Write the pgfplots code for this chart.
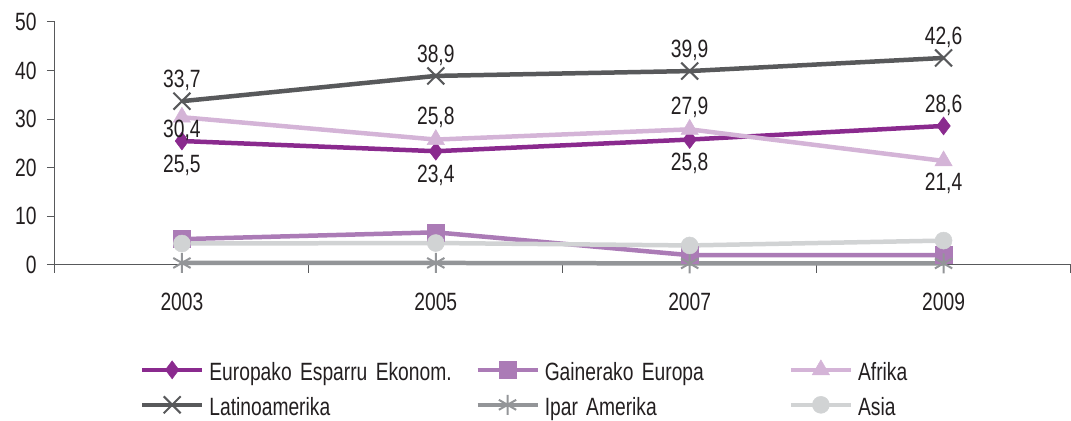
\documentclass[border=0pt]{standalone}
\usepackage{pgfplots}
\usepackage{pgfplotstable}
\pgfplotsset{compat=1.18}
\usepackage{fontspec}
\setmainfont{Liberation Sans}[FakeStretch=0.77]
\definecolor{c1}{HTML}{8A2A8E}
\definecolor{c2}{HTML}{AB7BB6}
\definecolor{c3}{HTML}{D4B4D7}
\definecolor{c4}{HTML}{58595B}
\definecolor{c5}{HTML}{939598}
\definecolor{c6}{HTML}{D1D3D4}
\definecolor{txt}{HTML}{231F20}

\pgfplotstableread{
x y lab off
0 25.5 25,5 -24
1 23.4 23,4 -24
2 25.8 25,8 -24
3 28.6 28,6 21
}\eee
\pgfplotstableread{
x y
0 5.3
1 6.7
2 2.0
3 2.0
}\gai
\pgfplotstableread{
x y lab off
0 30.4 30,4 -13
1 25.8 25,8 22
2 27.9 27,9 22
3 21.4 21,4 -22
}\afr
\pgfplotstableread{
x y lab off
0 33.7 33,7 21
1 38.9 38,9 21
2 39.9 39,9 21
3 42.6 42,6 21
}\lat
\pgfplotstableread{
x y
0 0.4
1 0.4
2 0.3
3 0.3
}\ipa
\pgfplotstableread{
x y
0 4.4
1 4.5
2 4.0
3 5.0
}\asi

\begin{document}
\begin{tikzpicture}[font=\fontsize{25bp}{29bp}\selectfont, text=txt]
\begin{axis}[
  at={(0,0)}, anchor=south west,
  scale only axis, width=1016bp, height=243bp,
  xmin=-0.5, xmax=3.5, ymin=0, ymax=50,
  /pgf/number format/assume math mode=true,
  axis x line*=bottom, axis y line*=left,
  axis line style={c4, line width=1bp},
  every tick/.style={c4, line width=1bp},
  tick align=outside,
  major tick length=8bp, minor tick length=8bp,
  xtick={0,1,2,3}, xticklabels={2003,2005,2007,2009},
  major x tick style={draw=none},
  minor xtick={-0.5,0.5,1.5,2.5,3.5},
  ytick={0,10,20,30,40,50},
  xticklabel style={yshift=-17bp},
  yticklabel style={xshift=-7bp},
  clip=false,
  legend columns=3,
  legend image code/.code={\draw[mark repeat=2,mark phase=2] plot coordinates {(0bp,0bp) (30bp,0bp) (60bp,0bp)};},
  legend style={draw=none, fill=none, inner sep=0pt, outer sep=0pt,
    at={(axis description cs:0,0)}, anchor=north west, xshift=85bp, yshift=-94bp,
    row sep=13bp,
    nodes={inner sep=0pt, outer sep=0pt, text height=22bp, text depth=0bp, anchor=west},
    /tikz/every odd column/.append style={column sep=5bp},
    /tikz/column 2/.style={nodes={text width=266bp}},
    /tikz/column 4/.style={nodes={text width=244bp}},
  },
  nodes near coords style={anchor=center, text=txt, font=\fontsize{25bp}{29bp}\selectfont},
]
\addplot[c1, line width=4.5bp, mark=diamond*, mark size=9bp, mark options={solid, line width=0.5bp},
  nodes near coords, point meta=explicit symbolic,
  visualization depends on={\thisrow{off} \as \off},
  every node near coord/.append style={yshift=\off bp}]
  table[x=x, y=y, meta=lab] {\eee};
\addlegendentry{Europako Esparru Ekonom.}
\addplot[c2, line width=4.5bp, mark=square*, mark size=8.5bp, mark options={solid, line width=0.5bp}]
  table[x=x, y=y] {\gai};
\addlegendentry{Gainerako Europa}
\addplot[c3, line width=4.5bp, mark=triangle*, mark size=10bp, mark options={solid, line width=0.5bp},
  nodes near coords, point meta=explicit symbolic,
  visualization depends on={\thisrow{off} \as \off},
  every node near coord/.append style={yshift=\off bp}]
  table[x=x, y=y, meta=lab] {\afr};
\addlegendentry{Afrika}
\addplot[c4, line width=4.5bp, mark=x, mark size=12bp, mark options={solid, line width=2bp},
  nodes near coords, point meta=explicit symbolic,
  visualization depends on={\thisrow{off} \as \off},
  every node near coord/.append style={yshift=\off bp}]
  table[x=x, y=y, meta=lab] {\lat};
\addlegendentry{Latinoamerika}
\addplot[c5, line width=4.5bp, mark=asterisk, mark size=10bp, mark options={solid, line width=2bp}]
  table[x=x, y=y] {\ipa};
\addlegendentry{Ipar Amerika}
\addplot[c6, line width=4.5bp, mark=*, mark size=8.5bp, mark options={solid, line width=0.5bp}]
  table[x=x, y=y] {\asi};
\addlegendentry{Asia}
\end{axis}
\path (-55bp,-156bp) rectangle (1016bp,265bp);
\end{tikzpicture}
\end{document}
